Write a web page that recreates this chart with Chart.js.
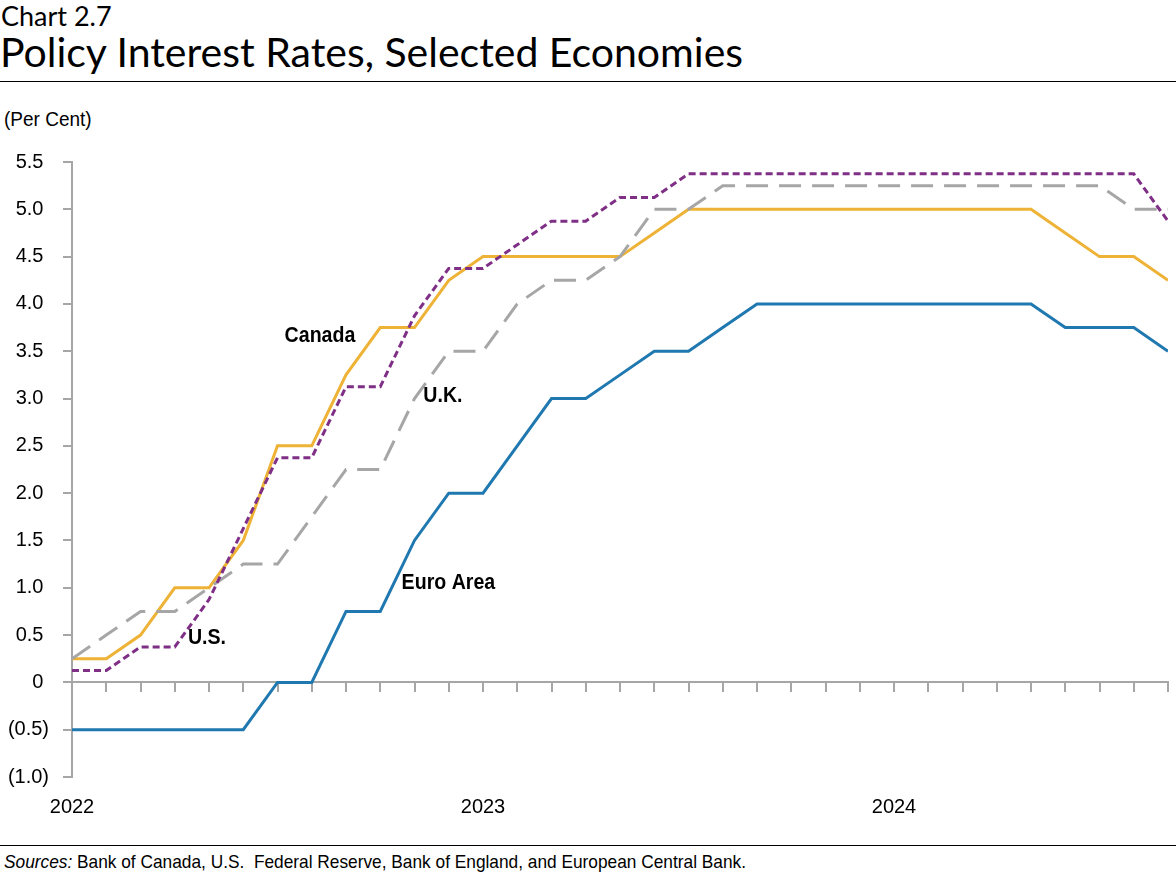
<!DOCTYPE html>
<html>
<head>
<meta charset="utf-8">
<script src="https://cdn.jsdelivr.net/npm/chart.js@4.4.1/dist/chart.umd.min.js"></script>
<style>
  body { margin: 0; background: #fff; width: 1176px; height: 879px; position: relative; overflow: hidden;
         font-family: "Liberation Sans", Arial, sans-serif; color: #000; }
  #kicker { position: absolute; left: 1px; top: 1px; font-family: Lato, sans-serif; font-size: 27px; line-height: 30px; }
  #title { position: absolute; left: 0; top: 29px; font-family: Lato, sans-serif; font-size: 41px; line-height: 46px; }
  .rule { position: absolute; left: 0; width: 1176px; height: 1px; background: #000; }
  #unit { position: absolute; left: 4px; top: 107px; font-size: 20px; line-height: 24px;
          transform: scaleX(0.95); transform-origin: left center; }
  #box { position: absolute; left: 0; top: 130px; width: 1176px; height: 710px; }
  #src { position: absolute; left: 4px; top: 850px; font-size: 19px; line-height: 24px; white-space: nowrap;
         transform: scaleX(0.91); transform-origin: left center; }
</style>
</head>
<body>
<div id="kicker">Chart 2.7</div>
<div id="title">Policy Interest Rates, Selected Economies</div>
<div class="rule" style="top:81px"></div>
<div id="unit">(Per Cent)</div>
<div id="box"><canvas id="myChart"></canvas></div>
<div class="rule" style="top:845px"></div>
<div id="src"><i>Sources:</i> Bank of Canada, U.S.&nbsp; Federal Reserve, Bank of England, and European Central Bank.</div>

<script>
// monthly, Jan 2022 .. Sep 2024
const yearLabels = ["2022", "2023", "2024"];
const yearIndex = [0, 12, 24];

const canada = [0.25, 0.25, 0.5, 1.0, 1.0, 1.5, 2.5, 2.5, 3.25, 3.75, 3.75, 4.25,
  4.5, 4.5, 4.5, 4.5, 4.5, 4.75, 5.0, 5.0, 5.0, 5.0, 5.0, 5.0,
  5.0, 5.0, 5.0, 5.0, 5.0, 4.75, 4.5, 4.5, 4.25];
const us = [0.125, 0.125, 0.375, 0.375, 0.875, 1.625, 2.375, 2.375, 3.125, 3.125, 3.875, 4.375,
  4.375, 4.625, 4.875, 4.875, 5.125, 5.125, 5.375, 5.375, 5.375, 5.375, 5.375, 5.375,
  5.375, 5.375, 5.375, 5.375, 5.375, 5.375, 5.375, 5.375, 4.875];
const uk = [0.25, 0.5, 0.75, 0.75, 1.0, 1.25, 1.25, 1.75, 2.25, 2.25, 3.0, 3.5,
  3.5, 4.0, 4.25, 4.25, 4.5, 5.0, 5.0, 5.25, 5.25, 5.25, 5.25, 5.25,
  5.25, 5.25, 5.25, 5.25, 5.25, 5.25, 5.25, 5.0, 5.0];
const euro = [-0.5, -0.5, -0.5, -0.5, -0.5, -0.5, 0.0, 0.0, 0.75, 0.75, 1.5, 2.0,
  2.0, 2.5, 3.0, 3.0, 3.25, 3.5, 3.5, 3.75, 4.0, 4.0, 4.0, 4.0,
  4.0, 4.0, 4.0, 4.0, 4.0, 3.75, 3.75, 3.75, 3.5];

// series name tags, in data units (month index, per cent)
const tags = [
  { text: "Canada", x: 7.24, y: 3.66 },
  { text: "U.K.", x: 10.83, y: 3.03 },
  { text: "U.S.", x: 3.94, y: 0.47 },
  { text: "Euro Area", x: 10.99, y: 1.05 },
];

const axisGrey = "#a6a6a6";
const font = "'Liberation Sans', Arial, sans-serif";

const toPoints = (arr) => arr.map((v, i) => ({ x: i, y: v }));

const tagPlugin = {
  id: "tags",
  afterDatasetsDraw(chart) {
    const { ctx, scales } = chart;
    ctx.save();
    ctx.font = "bold 22px " + font;
    ctx.fillStyle = "#000";
    ctx.textAlign = "center";
    ctx.textBaseline = "middle";
    tags.forEach((t) => {
      ctx.save();
      ctx.translate(scales.x.getPixelForValue(t.x), scales.y.getPixelForValue(t.y));
      ctx.scale(0.89, 1);
      ctx.fillText(t.text, 0, 0);
      ctx.restore();
    });
    ctx.restore();
  },
};

const cxt = document.querySelector("#myChart");

new Chart(cxt, {
  type: "line",
  data: {
    datasets: [
      { label: "U.S.", data: toPoints(us), borderColor: "#7f2f86", borderWidth: 3, borderDash: [7, 4] },
      { label: "U.K.", data: toPoints(uk), borderColor: "#a6a6a6", borderWidth: 3, borderDash: [22, 11] },
      { label: "Canada", data: toPoints(canada), borderColor: "#eeb236", borderWidth: 3 },
      { label: "Euro Area", data: toPoints(euro), borderColor: "#1f78b0", borderWidth: 3 },
    ],
  },
  options: {
    responsive: true,
    maintainAspectRatio: false,
    animation: false,
    elements: { point: { radius: 0 }, line: { tension: 0, borderCapStyle: "butt" } },
    layout: { padding: { top: 32, right: 8, left: 0, bottom: 0 } },
    plugins: { legend: { display: false }, tooltip: { enabled: false } },
    scales: {
      x: {
        type: "linear",
        position: "bottom",
        min: 0,
        max: canada.length - 1,
        afterBuildTicks: (axis) => { axis.ticks = yearIndex.map((v) => ({ value: v })); },
        afterFit: (axis) => { axis.height = 63; },
        grid: { display: false, drawTicks: false },
        border: { display: false },
        ticks: {
          padding: 18,
          maxRotation: 0,
          autoSkip: false,
          color: "#000",
          font: { family: font, size: 20 },
          callback: (v) => yearLabels[yearIndex.indexOf(v)],
        },
      },
      x2: {
        type: "linear",
        axis: "x",
        position: { y: 0 },
        min: 0,
        max: canada.length - 1,
        afterBuildTicks: (axis) => { axis.ticks = canada.map((v, i) => ({ value: i })); },
        grid: { drawOnChartArea: false, drawTicks: true, tickLength: 9, color: axisGrey, lineWidth: 2 },
        border: { display: true, color: axisGrey, width: 2 },
        ticks: { display: false },
      },
      y: {
        type: "linear",
        min: -1,
        max: 5.5,
        afterFit: (axis) => { axis.width = 72; },
        grid: { drawOnChartArea: false, drawTicks: true, tickLength: 9, color: axisGrey, lineWidth: 2 },
        border: { display: true, color: axisGrey, width: 2 },
        ticks: {
          stepSize: 0.5,
          padding: 14,
          color: "#000",
          font: { family: font, size: 20 },
          callback: (v) => (v < 0 ? "(" + Math.abs(v).toFixed(1) + ")" : v === 0 ? "0 " : v.toFixed(1) + " "),
        },
      },
    },
  },
  plugins: [tagPlugin],
});
</script>
</body>
</html>
